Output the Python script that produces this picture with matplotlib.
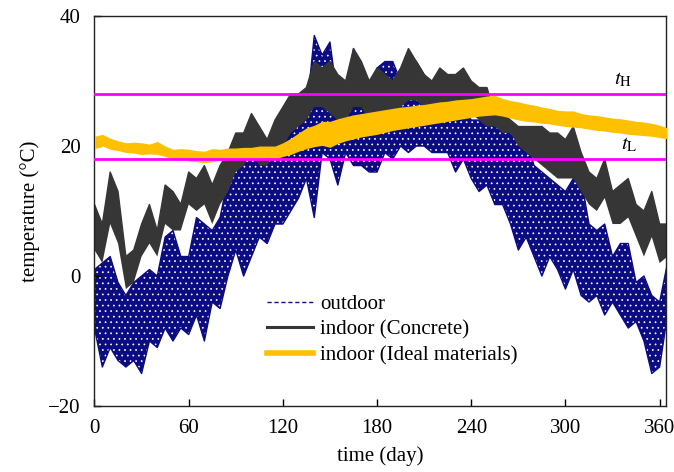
import numpy as np
import matplotlib
matplotlib.use("Agg")
import matplotlib.pyplot as plt

days = list(range(0, 366, 5))

outdoor_max = [1, 2, 3, -1, -3, -1, 0, 1, 0, 6, 7, 3, 3, 9, 8, 7, 9, 15, 17, 18,
               18, 19, 20, 22, 23, 23, 24, 25, 37, 34, 36, 27, 28, 35, 29, 27, 32, 33, 33, 30,
               34, 33, 31, 29, 31, 28, 27, 26, 24, 24, 24, 23, 23, 22, 22, 21, 17, 16, 15, 14,
               13, 15, 15, 8, 7, 8, 3, 5, 5, -1, 0, -3, -4, 2]
outdoor_min = [-8, -14, -11, -13, -14, -13, -15, -10, -11, -8, -10, -8, -9, -6, -10, -4, -5, 0, 4, 0,
               3, 6, 5, 8, 8, 10, 12, 15, 9, 19, 18, 14, 19, 17, 17, 16, 16, 19, 18, 20,
               19, 20, 20, 19, 19, 19, 16, 18, 15, 13, 14, 11, 11, 8, 4, 6, 3, 0, 3, 1,
               -2, 1, -3, -4, -3, -6, -4, -6, -8, -7, -10, -15, -14, -6]

concrete_max = [11, 8, 16, 13, 3, 4, 8, 11, 7, 14, 13, 11, 16, 15, 17, 14, 17, 19, 22, 22,
                25, 23, 21, 24, 26, 28, 28, 29, 33, 32, 33, 31, 30, 35, 33, 30, 32, 31, 30, 32,
                35, 33, 31, 30, 32, 31, 31, 32, 30, 29, 29, 25, 25, 24, 23, 23, 23, 23, 22, 22,
                21, 23, 19, 16, 15, 18, 13, 14, 15, 11, 10, 13, 8, 8]
concrete_min = [4, 2, 8, 5, -2, -1, 3, 5, 3, 8, 7, 7, 11, 10, 11, 8, 11, 13, 16, 17,
                19, 17, 17, 19, 20, 22, 23, 24, 26, 26, 25, 24, 24, 26, 26, 24, 25, 25, 25, 26,
                27, 27, 26, 26, 26, 26, 25, 25, 25, 24, 23, 23, 22, 22, 20, 19, 18, 17, 16, 15,
                15, 15, 13, 11, 10, 12, 8, 8, 9, 6, 3, 6, 2, 3]

ideal_max = [21.5, 21.8, 21.2, 20.8, 20.5, 20.6, 20.5, 20.3, 20.7, 20.0, 19.5, 19.6, 19.5, 19.3, 19.2,
             19.6, 19.5, 19.7, 19.7, 19.8, 19.8, 20.0, 20.0, 20.0, 20.5, 21.2, 22.0, 22.8, 23.2, 23.8,
             23.8, 24.2, 24.5, 24.8, 25.0, 25.2, 25.4, 25.6, 25.8, 26.0, 26.1, 26.3, 26.4, 26.6, 26.8,
             26.9, 27.1, 27.2, 27.3, 27.5, 27.7, 27.8, 27.3, 27.0, 26.8, 26.5, 26.3, 26.0, 25.8, 25.5,
             25.4, 25.4, 25.0, 24.8, 24.7, 24.5, 24.3, 24.2, 24.0, 23.8, 23.7, 23.5, 23.2, 22.8]
ideal_min = [19.6, 20.0, 19.5, 19.3, 19.0, 18.9, 18.7, 18.8, 18.7, 18.4, 17.9, 18.0, 17.7, 17.6, 17.4,
             17.6, 17.8, 17.9, 18.0, 18.0, 17.8, 18.0, 18.2, 18.0, 18.4, 18.7, 19.2, 19.6, 19.9, 20.1,
             19.8, 20.4, 20.8, 21.1, 21.4, 21.6, 21.8, 22.1, 22.4, 22.6, 22.8, 23.0, 23.2, 23.4, 23.6,
             23.8, 24.0, 24.2, 24.4, 24.6, 24.7, 24.8, 24.6, 24.3, 24.0, 23.8, 23.7, 23.5, 23.4, 23.2,
             23.0, 22.9, 22.8, 22.6, 22.4, 22.3, 22.1, 22.0, 21.8, 21.7, 21.6, 21.5, 21.3, 21.1]

t_high = 28
t_low = 18
xticks = [0, 60, 120, 180, 240, 300, 360]
yticks = [-20, 0, 20, 40]

# ---- plotting ----
plt.rcParams['font.family'] = ['Liberation Serif', 'DejaVu Serif']
plt.rcParams['mathtext.fontset'] = 'stix'
plt.rcParams['axes.unicode_minus'] = True
plt.rcParams['hatch.color'] = 'white'
plt.rcParams['hatch.linewidth'] = 0.5

fig = plt.figure(figsize=(6.74, 4.72), dpi=100)
ax = fig.add_axes([0.1402, 0.1398, 0.988 - 0.1402, 0.966 - 0.1398])

d = np.asarray(days, dtype=float)

navy = '#0c0c82'
dark = '#363636'
yellow = '#FFC000'
magenta = '#FF00FF'

# outdoor (hourly band: navy dashed trace rendered as a speckled band)
ax.fill_between(d, outdoor_min, outdoor_max, facecolor=navy, edgecolor='white',
                hatch='...', lw=0, zorder=1)
ax.plot(d, outdoor_max, color=navy, lw=1.0, zorder=1.1)
ax.plot(d, outdoor_min, color=navy, lw=1.0, zorder=1.1)

# indoor (Concrete)
ax.fill_between(d, concrete_min, concrete_max, facecolor=dark, lw=0, zorder=2)
ax.plot(d, concrete_max, color=dark, lw=1.0, zorder=2)

# indoor (Ideal materials)
ax.fill_between(d, ideal_min, ideal_max, color=yellow, lw=0, zorder=3)

ax.axhline(t_high, color=magenta, lw=2, zorder=4)
ax.axhline(t_low, color=magenta, lw=2, zorder=4)

ax.text(337, 28.8, r'$t_{\rm H}$', fontsize=15, ha='center', va='bottom')
ax.text(341, 18.8, r'$t_{\rm L}$', fontsize=15, ha='center', va='bottom')

# legend handles
h1, = ax.plot([], [], color=navy, lw=1.0, ls=(0, (3, 2)))
h2, = ax.plot([], [], color=dark, lw=2.2)
h3, = ax.plot([], [], color=yellow, lw=4)
leg = ax.legend([h1, h2, h3], ['outdoor', 'indoor (Concrete)', 'indoor (Ideal materials)'],
                loc='center left', bbox_to_anchor=(0.302, 0.195), frameon=False,
                fontsize=15, handlelength=2.2, handletextpad=0.35, labelspacing=0.3,
                borderpad=0, borderaxespad=0)

ax.set_xlim(0, 364)
ax.set_ylim(-20, 40)
ax.set_xticks(xticks)
ax.set_yticks(yticks)
ax.tick_params(direction='in', length=5, labelsize=15, width=1)
ax.tick_params(axis='y', pad=10)
ax.tick_params(axis='x', pad=9)
for s in ax.spines.values():
    s.set_linewidth(1.0)
    s.set_color('#222222')

ax.set_xlabel('time (day)', fontsize=15, labelpad=6)
ax.set_ylabel('temperature (°C)', fontsize=15, labelpad=6)

fig.savefig('out.png', dpi=100)
